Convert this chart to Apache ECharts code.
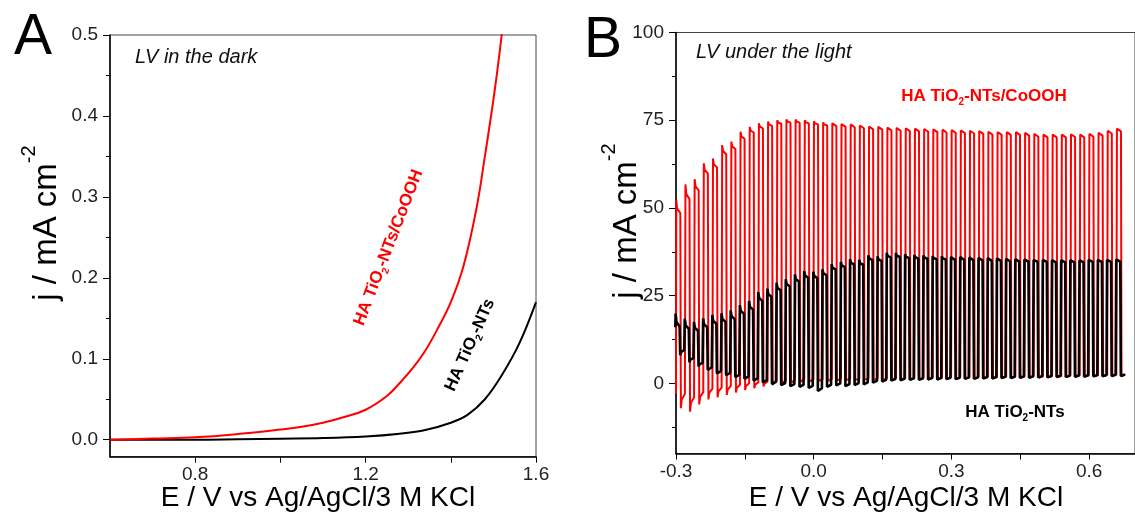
<!DOCTYPE html>
<html>
<head>
<meta charset="utf-8">
<script src="https://cdn.jsdelivr.net/npm/echarts@6/dist/echarts.min.js"></script>
<style>
html,body{margin:0;padding:0;background:#fff;}
#chart{width:1135px;height:515px;}
</style>
</head>
<body>
<div id="chart"></div>
<script>
// ---------- Panel A : LV in the dark ----------
const darkRedE = [0.60, 0.70, 0.80, 0.90, 1.00, 1.05, 1.10, 1.15, 1.20, 1.25, 1.28, 1.31, 1.34, 1.37, 1.40, 1.43, 1.46, 1.48, 1.50, 1.515, 1.53];
const darkRedJ = [0.000, 0.0015, 0.003, 0.007, 0.0126, 0.016, 0.021, 0.028, 0.037, 0.054, 0.070, 0.088, 0.110, 0.138, 0.170, 0.215, 0.285, 0.350, 0.420, 0.480, 0.550];
const darkBlackE = [0.60, 0.80, 0.90, 1.00, 1.10, 1.20, 1.28, 1.34, 1.40, 1.44, 1.48, 1.52, 1.56, 1.60];
const darkBlackJ = [0.000, 0.000, 0.0006, 0.0013, 0.002, 0.004, 0.0075, 0.012, 0.021, 0.031, 0.050, 0.080, 0.118, 0.170];

const xLabelsA = [0.8, 1.2, 1.6];
const xTicksA = [0.8, 1.0, 1.2, 1.4, 1.6];
const yLabelsA = [0.0, 0.1, 0.2, 0.3, 0.4, 0.5];
const yMinorA = [0.05, 0.15, 0.25, 0.35, 0.45];

// ---------- Panel B : LV under chopped light ----------
const chopOn = [-0.30,-0.28,-0.26,-0.24,-0.22,-0.20,-0.18,-0.16,-0.14,-0.12,-0.10,-0.08,-0.06,-0.04,-0.02,0.00,0.02,0.04,0.06,0.08,0.10,0.12,0.14,0.16,0.18,0.20,0.22,0.24,0.26,0.28,0.30,0.32,0.34,0.36,0.38,0.40,0.42,0.44,0.46,0.48,0.50,0.52,0.54,0.56,0.58,0.60,0.62,0.64,0.66];

const redPeak = [52.2,56.7,58.2,62.7,64.1,67.9,68.9,71.7,73.1,74.1,74.6,75.0,75.2,75.2,75.0,74.7,74.4,74.1,73.9,73.8,73.5,73.2,73.1,72.9,72.8,72.7,72.6,72.5,72.4,72.3,72.2,72.1,72.0,71.9,71.7,71.6,71.6,71.6,71.4,71.1,70.9,70.9,70.9,71.0,70.9,71.1,71.4,72.0,72.6];
const redPlateau = [48.5,52.5,55.0,59.8,61.5,65.3,66.8,69.7,71.5,72.7,73.4,74.0,74.3,74.3,74.1,73.8,73.5,73.3,73.1,73.0,72.7,72.4,72.3,72.1,72.0,71.9,71.8,71.7,71.6,71.5,71.4,71.3,71.2,71.1,70.9,70.8,70.8,70.8,70.6,70.3,70.1,70.1,70.1,70.2,70.1,70.3,70.6,71.2,71.8];
const redDarkMin = [-7.1,-8.1,-6.0,-4.6,-4.0,-3.3,-2.6,-1.9,-1.4,-0.9,-0.5,0.0,0.2,0.4,0.5,0.6,0.7,0.8,0.9,0.9,1.0,1.0,1.0,1.1,1.1,1.1,1.2,1.2,1.2,1.3,1.3,1.3,1.4,1.4,1.4,1.5,1.5,1.5,1.6,1.6,1.7,1.7,1.8,1.8,1.9,1.9,2.0,2.0,2.1];
const redDarkEnd = [-3.0,-4.0,-2.5,-1.5,-1.2,-0.8,-0.4,0.0,0.3,0.5,0.7,0.9,1.0,1.1,1.1,1.2,1.2,1.3,1.3,1.3,1.4,1.4,1.4,1.5,1.5,1.5,1.6,1.6,1.6,1.7,1.7,1.7,1.8,1.8,1.8,1.9,1.9,1.9,2.0,2.0,2.1,2.1,2.2,2.2,2.3,2.3,2.4,2.4,2.5];
const redStart = -3.0;

const blackPeak = [19.9,18.5,17.5,18.5,19.5,20.0,20.8,22.3,23.5,26.0,27.0,28.7,29.7,31.0,32.0,31.8,32.5,34.0,34.6,35.4,35.2,36.5,36.2,37.2,37.2,36.8,36.6,36.5,36.3,36.2,36.0,36.0,35.9,35.8,35.7,35.6,35.5,35.4,35.3,35.2,35.2,35.1,35.1,35.1,35.1,35.2,35.2,35.2,35.3];
const blackPlateau = [16.2,15.5,15.0,16.0,17.0,17.5,18.3,19.8,21.0,23.5,24.7,26.5,27.6,29.0,30.1,30.0,30.8,32.4,33.1,33.9,33.8,35.1,34.9,35.9,36.0,35.7,35.6,35.5,35.4,35.3,35.2,35.2,35.1,35.0,34.9,34.9,34.8,34.7,34.7,34.6,34.6,34.5,34.5,34.5,34.5,34.6,34.6,34.6,34.7];
const blackDarkMin = [8.0,6.0,4.8,3.8,2.8,2.3,1.8,1.3,0.8,0.3,-0.2,-0.5,-0.8,-1.0,-1.3,-2.2,-1.0,-0.6,-0.8,-0.5,-0.3,0.2,0.5,0.8,0.9,1.0,1.0,1.1,1.1,1.2,1.2,1.3,1.3,1.4,1.4,1.5,1.5,1.6,1.6,1.7,1.7,1.8,1.8,1.9,1.9,2.0,2.0,2.1,2.1];
const blackDarkEnd = [9.5,7.2,5.8,4.6,3.5,3.0,2.4,1.9,1.4,0.9,0.4,0.1,-0.2,-0.4,-0.7,-1.4,-0.4,0.0,-0.2,0.1,0.3,0.7,1.0,1.2,1.3,1.4,1.4,1.5,1.5,1.6,1.6,1.7,1.7,1.8,1.8,1.9,1.9,2.0,2.0,2.1,2.1,2.2,2.2,2.3,2.3,2.4,2.4,2.5,2.5];
const blackStart = 16.0;

const xLabelsB = [-0.3, 0.0, 0.3, 0.6];
const xTicksB = [-0.3, -0.15, 0.0, 0.15, 0.3, 0.45, 0.6];
const yLabelsB = [0, 25, 50, 75, 100];
const yMinorB = [-12.5, 12.5, 37.5, 62.5, 87.5];

// ---------- build ----------
const FONT = 'Liberation Sans, Arial, Helvetica, sans-serif';
const RED = '#ff0000';

function zip(xs, ys) { return xs.map((x, i) => [x, ys[i]]); }

function chopTrace(peak, plat, dmin, dend, start, shift) {
  const pts = [[chopOn[0] + shift, start]];
  for (let i = 0; i < chopOn.length; i++) {
    const t = chopOn[i] + shift;
    pts.push([t + 0.0006, peak[i]]);
    pts.push([t + 0.0025, plat[i] + (peak[i] - plat[i]) * 0.35]);
    pts.push([t + 0.0094, plat[i]]);
    pts.push([t + 0.0106, dmin[i]]);
    pts.push([t + 0.0125, dend[i] - (dend[i] - dmin[i]) * 0.4]);
    pts.push([t + 0.0194, dend[i]]);
  }
  return pts;
}

function majorY(grid, min, max, labels, fmt) {
  return {
    type: 'value', gridIndex: grid, min: min, max: max, position: 'left',
    axisLine: { show: true, onZero: false, lineStyle: { color: '#000', width: 1.5 } },
    axisTick: { show: true, customValues: labels, length: 7, lineStyle: { color: '#000', width: 1 } },
    axisLabel: { show: true, customValues: labels, formatter: fmt, fontSize: 19, margin: 12, color: '#222', fontFamily: FONT },
    splitLine: { show: false }
  };
}
function minorY(grid, min, max, ticks) {
  return {
    type: 'value', gridIndex: grid, min: min, max: max, position: 'left', offset: 0,
    axisLine: { show: true, onZero: false, lineStyle: { color: 'rgba(0,0,0,0)', width: 1 } },
    axisTick: { show: true, customValues: ticks, length: 4, lineStyle: { color: '#000', width: 1 } },
    axisLabel: { show: false },
    splitLine: { show: false }
  };
}
function xAx(grid, min, max, labels, ticks, fmt) {
  return {
    type: 'value', gridIndex: grid, min: min, max: max, position: 'bottom',
    axisLine: { show: true, onZero: false, lineStyle: { color: '#000', width: 1.5 } },
    axisTick: { show: true, customValues: ticks, length: 6, lineStyle: { color: '#000', width: 1 } },
    axisLabel: { show: true, customValues: labels, formatter: fmt, fontSize: 19, margin: 9, color: '#222', fontFamily: FONT },
    splitLine: { show: false }
  };
}

const f1 = v => Number(v).toFixed(1);
const f0 = v => String(Math.round(v));

const chart = echarts.init(document.getElementById('chart'), null, { renderer: 'canvas' });

function txt(x, y, rich, text, rot, align) {
  return {
    type: 'text', x: x, y: y, rotation: rot || 0, z: 100,
    style: { text: text, rich: rich, align: align || 'center', verticalAlign: 'middle', fontFamily: FONT }
  };
}

const yTitleRich = {
  m: { fontSize: 33, fontFamily: FONT, fill: '#000', verticalAlign: 'bottom', lineHeight: 44 },
  s: { fontSize: 20, fontFamily: FONT, fill: '#000', verticalAlign: 'top', lineHeight: 20 }
};
const xTitleRich = { m: { fontSize: 28, fontFamily: FONT, fill: '#000' } };
function labRich(color) {
  return {
    b: { fontSize: 17, fontWeight: 'bold', fontFamily: FONT, fill: color, verticalAlign: 'middle', lineHeight: 22 },
    s: { fontSize: 10, fontWeight: 'bold', fontFamily: FONT, fill: color, verticalAlign: 'bottom', padding: [12, 0, 0, 0] }
  };
}
const bigRich = { m: { fontSize: 57, fontFamily: FONT, fill: '#000' } };
const itRich = { m: { fontSize: 20, fontStyle: 'italic', fontFamily: FONT, fill: '#111' } };

const option = {
  animation: false,
  backgroundColor: '#fff',
  grid: [
    { left: 110, top: 35, width: 426, height: 421.7, show: true, borderColor: '#444', borderWidth: 1, backgroundColor: 'transparent' },
    { left: 676, top: 32.5, width: 471.5, height: 421, show: true, borderColor: '#444', borderWidth: 1, backgroundColor: 'transparent' }
  ],
  xAxis: [
    xAx(0, 0.6, 1.6, xLabelsA, xTicksA, f1),
    xAx(1, -0.3, 0.7, xLabelsB, xTicksB, f1)
  ],
  yAxis: [
    majorY(0, -0.021, 0.5, yLabelsA, f1),
    minorY(0, -0.021, 0.5, yMinorA),
    majorY(1, -20, 100, yLabelsB, f0),
    minorY(1, -20, 100, yMinorB)
  ],
  series: [
    { type: 'line', xAxisIndex: 0, yAxisIndex: 0, data: zip(darkBlackE, darkBlackJ), showSymbol: false, smooth: 0.4, lineStyle: { color: '#000', width: 2 }, z: 3 },
    { type: 'line', xAxisIndex: 0, yAxisIndex: 0, data: zip(darkRedE, darkRedJ), showSymbol: false, smooth: 0.4, lineStyle: { color: RED, width: 2 }, z: 4 },
    { type: 'line', xAxisIndex: 1, yAxisIndex: 2, data: chopTrace(redPeak, redPlateau, redDarkMin, redDarkEnd, redStart, 0), showSymbol: false, lineStyle: { color: RED, width: 2 }, z: 3 },
    { type: 'line', xAxisIndex: 1, yAxisIndex: 2, data: chopTrace(blackPeak, blackPlateau, blackDarkMin, blackDarkEnd, blackStart, -0.0015), showSymbol: false, lineStyle: { color: '#000', width: 2.6 }, z: 4 }
  ],
  graphic: [
    txt(14, 38, bigRich, '{m|A}', 0, 'left'),
    txt(584, 41, bigRich, '{m|B}', 0, 'left'),
    txt(135, 57, itRich, '{m|LV in the dark}', 0, 'left'),
    txt(696, 52, itRich, '{m|LV under the light}', 0, 'left'),
    txt(41, 223, yTitleRich, '{m|j / mA cm}{s|-2}', Math.PI / 2),
    txt(621, 221, yTitleRich, '{m|j / mA cm}{s|-2}', Math.PI / 2),
    txt(318, 498, xTitleRich, '{m|E / V vs Ag/AgCl/3 M KCl}'),
    txt(906, 498, xTitleRich, '{m|E / V vs Ag/AgCl/3 M KCl}'),
    txt(388.5, 247.5, labRich(RED), '{b|HA TiO}{s|2}{b|-NTs/CoOOH}', 69 * Math.PI / 180),
    txt(470, 345, labRich('#000'), '{b|HA TiO}{s|2}{b|-NTs}', 66 * Math.PI / 180),
    txt(984, 96, labRich(RED), '{b|HA TiO}{s|2}{b|-NTs/CoOOH}'),
    txt(1015, 412, labRich('#000'), '{b|HA TiO}{s|2}{b|-NTs}')
  ]
};
chart.setOption(option);
</script>
</body>
</html>
